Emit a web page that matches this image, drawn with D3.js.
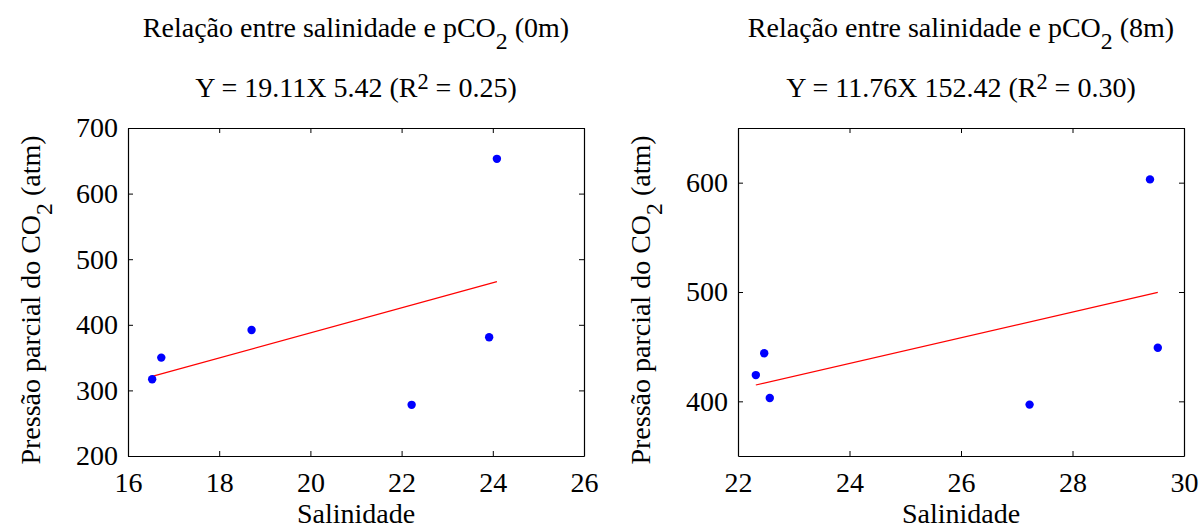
<!DOCTYPE html>
<html>
<head>
<meta charset="utf-8">
<script src="https://cdn.jsdelivr.net/npm/d3@7"></script>
<style>
  html, body { margin: 0; padding: 0; background: #fff; }
  svg { display: block; }
  svg text { font-family: 'Liberation Serif', 'Times New Roman', Tinos, 'DejaVu Serif', 'Noto Serif', FreeSerif, serif; fill: #000; }
</style>
</head>
<body>
<div id="chart"></div>
<script>
// Salinidade x pCO2 — duas profundidades (0m e 8m)

const SAL_0M  = [16.53, 16.73, 18.71, 22.22, 23.92, 24.09];
const PCO2_0M = [317, 350, 392, 278, 381, 653];
const SAL_8M  = [22.32, 22.47, 22.57, 27.23, 29.39, 29.53];
const PCO2_8M = [424, 444, 403, 397, 603, 449];

// coeficientes da regressão (do título)
const FIT_0M = { a: 19.11, b: 5.42,   r2: '0.25', label: '19.11X 5.42' };
const FIT_8M = { a: 11.76, b: 152.42, r2: '0.30', label: '11.76X 152.42' };

const XTICKS_0M = [16, 18, 20, 22, 24, 26];
const YTICKS_0M = [200, 300, 400, 500, 600, 700];
const XTICKS_8M = [22, 24, 26, 28, 30];
const YTICKS_8M = [400, 500, 600];

const W = 1202, H = 528;
const FS = 28;
const TICK = 5;

const svg = d3.select('#chart').append('svg')
  .attr('width', W).attr('height', H)
  .attr('viewBox', `0 0 ${W} ${H}`);

function drawPanel(p) {
  const x = d3.scaleLinear().domain(p.xDomain).range([p.left, p.right]);
  const y = d3.scaleLinear().domain(p.yDomain).range([p.bottom, p.top]);
  const cx = (p.left + p.right) / 2;
  const cy = (p.top + p.bottom) / 2;
  const g = svg.append('g');

  const styleAxis = a => {
    a.attr('font-family', null);
    a.select('.domain').attr('stroke', '#000').attr('stroke-width', 1.2);
    a.selectAll('.tick line').attr('stroke', '#000').attr('stroke-width', 1);
    a.selectAll('.tick text')
      .attr('font-size', FS + 'px')
      .attr('fill', '#000');
  };

  // eixos (ticks para dentro, caixa completa)
  g.append('g').attr('transform', `translate(0,${p.bottom})`)
    .call(d3.axisBottom(x).tickValues(p.xTicks).tickSize(-TICK).tickPadding(16).tickSizeOuter(0))
    .call(styleAxis);
  g.append('g').attr('transform', `translate(0,${p.top})`)
    .call(d3.axisTop(x).tickValues(p.xTicks).tickSize(-TICK).tickFormat('').tickSizeOuter(0))
    .call(styleAxis);
  g.append('g').attr('transform', `translate(${p.left},0)`)
    .call(d3.axisLeft(y).tickValues(p.yTicks).tickSize(-TICK).tickPadding(10).tickSizeOuter(0))
    .call(styleAxis);
  g.append('g').attr('transform', `translate(${p.right},0)`)
    .call(d3.axisRight(y).tickValues(p.yTicks).tickSize(-TICK).tickFormat('').tickSizeOuter(0))
    .call(styleAxis);

  // linha de regressão
  const xs = d3.extent(p.sal);
  g.append('line')
    .attr('x1', x(xs[0])).attr('y1', y(p.fit.a * xs[0] + p.fit.b))
    .attr('x2', x(xs[1])).attr('y2', y(p.fit.a * xs[1] + p.fit.b))
    .attr('stroke', '#ff0000').attr('stroke-width', 1.2);

  // pontos
  g.selectAll('.pt')
    .data(p.sal.map((s, i) => ({ s, v: p.pco2[i] })))
    .enter().append('circle')
    .attr('cx', d => x(d.s)).attr('cy', d => y(d.v))
    .attr('r', 4.2)
    .attr('fill', '#0000ff');

  // título
  const t1 = g.append('text')
    .attr('x', cx).attr('y', 37)
    .attr('text-anchor', 'middle')
    .attr('font-size', FS + 'px');
  t1.append('tspan').text('Relação entre salinidade e pCO');
  t1.append('tspan').attr('font-size', (FS * 0.85) + 'px').attr('dy', 12).text('2');
  t1.append('tspan').attr('dy', -12).text(` (${p.depth})`);

  const t2 = g.append('text')
    .attr('x', cx).attr('y', 97)
    .attr('text-anchor', 'middle')
    .attr('font-size', FS + 'px');
  t2.append('tspan').text(`Y = ${p.fit.label} (R`);
  t2.append('tspan').attr('font-size', (FS * 0.8) + 'px').attr('dy', -8).text('2');
  t2.append('tspan').attr('dy', 8).text(` = ${p.fit.r2})`);

  // rótulo x
  g.append('text')
    .attr('x', cx).attr('y', 523)
    .attr('text-anchor', 'middle')
    .attr('font-size', FS + 'px')
    .text('Salinidade');

  // rótulo y
  const yl = g.append('text')
    .attr('transform', `translate(${p.ylabX},${cy + 8}) rotate(-90)`)
    .attr('text-anchor', 'middle')
    .attr('font-size', FS + 'px');
  yl.append('tspan').text('Pressão parcial do CO');
  yl.append('tspan').attr('font-size', (FS * 0.85) + 'px').attr('dy', 12).text('2');
  yl.append('tspan').attr('dy', -12).text(' (atm)');
}

drawPanel({
  left: 128, right: 584, top: 128, bottom: 456,
  xDomain: [16, 26], yDomain: [200, 700],
  xTicks: XTICKS_0M, yTicks: YTICKS_0M,
  sal: SAL_0M, pco2: PCO2_0M, fit: FIT_0M, depth: '0m',
  ylabX: 40
});

drawPanel({
  left: 738, right: 1184, top: 128, bottom: 456,
  xDomain: [22, 30], yDomain: [350, 650],
  xTicks: XTICKS_8M, yTicks: YTICKS_8M,
  sal: SAL_8M, pco2: PCO2_8M, fit: FIT_8M, depth: '8m',
  ylabX: 650
});
</script>
</body>
</html>
